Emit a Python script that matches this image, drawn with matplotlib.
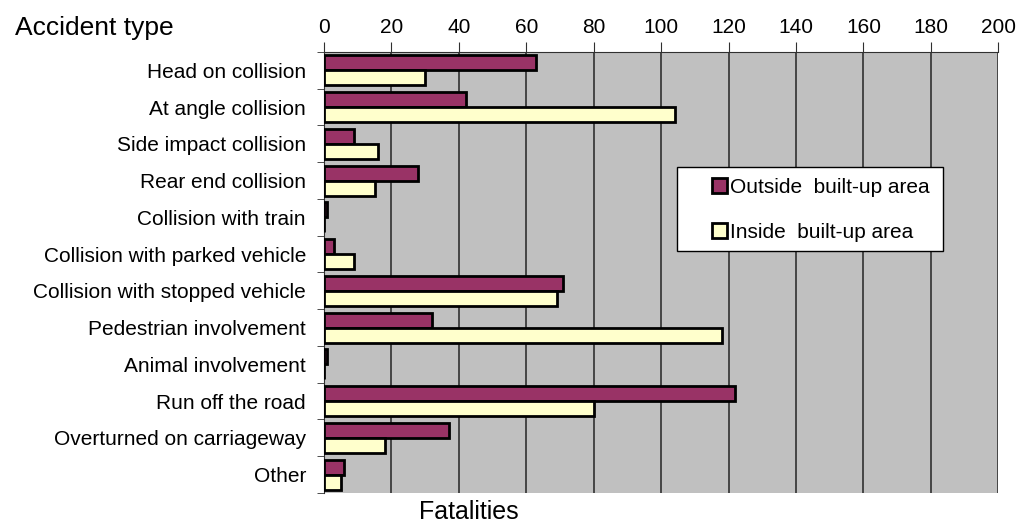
import matplotlib.pyplot as plt
from matplotlib.patches import Rectangle
import numpy as np

plt.rcParams['font.family'] = ['Liberation Sans', 'DejaVu Sans']

# DATA
categories = ['Head on collision', 'At angle collision', 'Side impact collision',
              'Rear end collision', 'Collision with train', 'Collision with parked vehicle',
              'Collision with stopped vehicle', 'Pedestrian involvement', 'Animal involvement',
              'Run off the road', 'Overturned on carriageway', 'Other']
outside = [63, 42, 9, 28, 1, 3, 71, 32, 1, 122, 37, 6]
inside = [30, 104, 16, 15, 0, 9, 69, 118, 0, 80, 18, 5]
xticks = [0, 20, 40, 60, 80, 100, 120, 140, 160, 180, 200]

fig = plt.figure(figsize=(10.2, 5.23), dpi=100)
ax = fig.add_axes([0.3176, 0.0574, 0.6612, 0.8432])
ax.set_facecolor('#C0C0C0')

y = np.arange(len(categories))
h = 0.41
ax.barh(y - h / 2, outside, height=h, color='#993366', edgecolor='black', linewidth=2.0,
        label='Outside  built-up area', zorder=3)
ax.barh(y + h / 2, inside, height=h, color='#FFFFCC', edgecolor='black', linewidth=2.0,
        label='Inside  built-up area', zorder=3)

ax.set_xlim(0, 200)
ax.set_ylim(len(categories) - 0.5, -0.5)
ax.set_xticks(xticks)
ax.xaxis.tick_top()
ax.tick_params(axis='x', labelsize=15, length=7, color='#303030', pad=4)
ax.grid(axis='x', color='#303030', linewidth=1.2, zorder=1)

ax.set_yticks(y)
ax.set_yticklabels(categories, fontsize=15)
ax.set_yticks(np.arange(len(categories) + 1) - 0.5, minor=True)
ax.tick_params(axis='y', which='major', length=0, pad=13)
ax.tick_params(axis='y', which='minor', length=5, color='#303030')

for s in ['right', 'bottom']:
    ax.spines[s].set_visible(False)
ax.spines['top'].set_color('#303030')
ax.spines['left'].set_color('#303030')

# legend box (white frame) and entries
W, H = 1020.0, 523.0
fig.patches.append(Rectangle((677 / W, 1 - 251 / H), (943 - 677) / W, (251 - 167) / H,
                             transform=fig.transFigure, facecolor='white',
                             edgecolor='black', linewidth=1.0, zorder=5))
leg = fig.legend(loc='upper left', bbox_to_anchor=(712 / W, 1 - 178 / H), fontsize=15,
                 frameon=False, handlelength=0.7, handleheight=0.7, handletextpad=0.15,
                 labelspacing=1.25, borderpad=0.0, borderaxespad=0.0)
leg.set_zorder(6)

fig.text(0.015, 0.946, 'Accident type', fontsize=19, va='center', ha='left')
fig.text(0.46, 0.021, 'Fatalities', fontsize=18, va='center', ha='center')

fig.savefig('out.png', dpi=100)
